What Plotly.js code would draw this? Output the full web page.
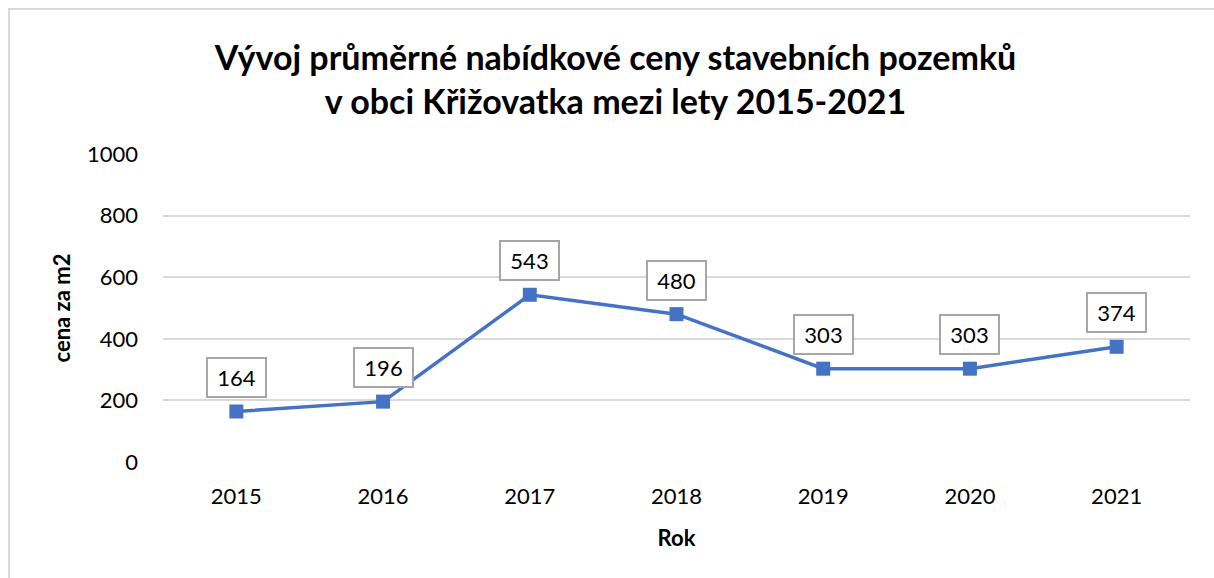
<!DOCTYPE html>
<html>
<head>
<meta charset="utf-8">
<script src="https://cdn.plot.ly/plotly-3.0.1.min.js"></script>
<style>
html,body{margin:0;padding:0;background:#fff;}
#frame{position:absolute;left:8px;top:8px;width:1300px;height:700px;border-left:2px solid #d9d9d9;border-top:2px solid #d9d9d9;pointer-events:none;z-index:5;}
#chart{position:absolute;left:0;top:0;width:1214px;height:578px;}
</style>
</head>
<body>
<div id="chart"></div>
<div id="frame"></div>
<script>
const years = ['2015','2016','2017','2018','2019','2020','2021'];
const prices = [164, 196, 543, 480, 303, 303, 374];
const yTicks = [0, 200, 400, 600, 800, 1000];

const FONT = 'Lato, "Open Sans", sans-serif';
const BLUE = '#4472C4';

const trace = {
  x: years,
  y: prices,
  type: 'scatter',
  mode: 'lines+markers',
  line: {color: BLUE, width: 3.5},
  marker: {symbol: 'square', size: 14, color: BLUE},
  hoverinfo: 'x+y'
};

const labels = years.map((yr, i) => ({
  x: i, y: prices[i], xref: 'x', yref: 'y',
  text: String(prices[i]),
  showarrow: false,
  yshift: 34,
  font: {family: FONT, size: 22, color: '#000'},
  bgcolor: '#ffffff',
  bordercolor: '#a6a6a6',
  borderwidth: 2,
  borderpad: 5,
  width: 47
}));

const layout = {
  width: 1214, height: 578,
  margin: {l: 163, r: 24, t: 154, b: 116},
  paper_bgcolor: '#fff', plot_bgcolor: '#fff',
  font: {family: FONT, size: 22, color: '#000'},
  showlegend: false,
  title: {
    text: '<b>Vývoj průměrné nabídkové ceny stavebních pozemků<br>v obci Křižovatka mezi lety 2015-2021</b>',
    font: {family: FONT, size: 34, color: '#000'},
    x: 0.507, xanchor: 'center',
    y: 0.879, yanchor: 'middle', yref: 'container'
  },
  xaxis: {
    type: 'category',
    categoryorder: 'array', categoryarray: years,
    range: [-0.5, 6.5],
    showgrid: false, zeroline: false, showline: false,
    ticks: '', ticklabelstandoff: 19,
    tickfont: {family: FONT, size: 22, color: '#000'},
    title: {text: '<b>Rok</b>', font: {family: FONT, size: 22, color: '#000'}, standoff: 22}
  },
  yaxis: {
    range: [0, 1000],
    tickvals: yTicks,
    ticktext: yTicks.map(String),
    showgrid: true, gridcolor: '#d9d9d9', gridwidth: 2,
    zeroline: false, showline: false,
    ticks: '', ticklabelstandoff: 24,
    tickfont: {family: FONT, size: 22, color: '#000'},
    title: {text: '<b>cena za m2</b>', font: {family: FONT, size: 22, color: '#000'}, standoff: 10}
  },
  annotations: labels
};

Plotly.newPlot('chart', [trace], layout, {displayModeBar: false, staticPlot: true});
</script>
</body>
</html>
